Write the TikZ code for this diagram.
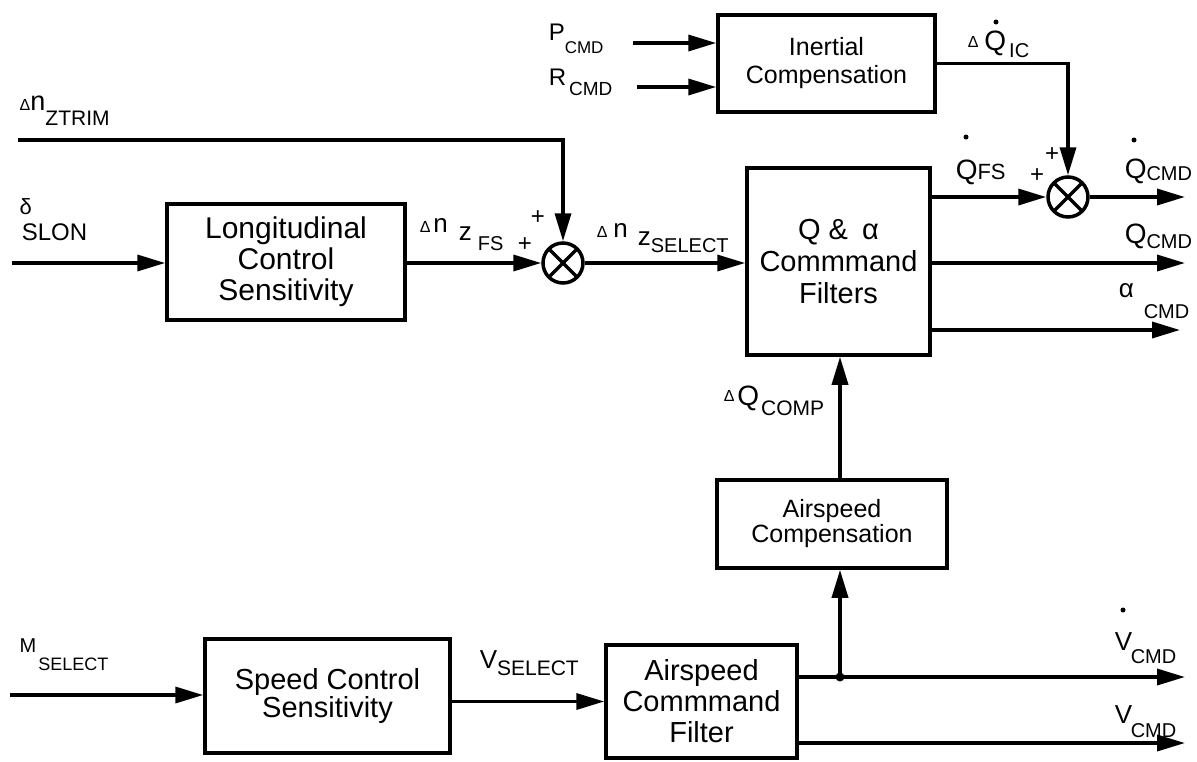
\documentclass[tikz,border=0pt]{standalone}
\usepackage{fontspec}
\setmainfont{Liberation Sans}
\usetikzlibrary{arrows.meta}
\newcommand{\fs}[1]{\fontsize{#1}{#1}\selectfont}
\newcommand{\lab}[3]{\raisebox{#1}{\fs{#2}#3}}
\begin{document}
\begin{tikzpicture}[x=1pt,y=-1pt,line width=3.5pt,
  arr/.style={-{Triangle[length=28pt,width=16pt]}},
  blk/.style={draw,line width=3.5pt,align=center,inner sep=0pt},
  sj/.style={circle,draw,line width=3.5pt,minimum size=40pt,inner sep=0pt,
    path picture={\draw[line width=3.5pt] (path picture bounding box.north west) -- (path picture bounding box.south east)
      (path picture bounding box.north east) -- (path picture bounding box.south west);}},
  lbl/.style={anchor=base west,inner sep=0pt},
  pl/.style={inner sep=0pt,font=\fs{24}}]
\useasboundingbox (0,0) rectangle (1197,761);

% blocks
\node[blk,minimum width=217pt,minimum height=97pt,font=\fontsize{25}{28}\selectfont] (inertial) at (826.5,63.5) {Inertial\\Compensation};
\node[blk,minimum width=238pt,minimum height=116pt,font=\fontsize{30}{31}\selectfont] (long) at (286,262) {Longitudinal\\Control\\Sensitivity};
\node[blk,minimum width=183pt,minimum height=187pt,font=\fontsize{29}{32}\selectfont] (qa) at (838.5,261.5) {Q \&\hspace{14pt}α\\Commmand\\Filters};
\node[blk,minimum width=230pt,minimum height=88pt,font=\fontsize{25}{25}\selectfont] (aspcomp) at (832,524) {Airspeed\\Compensation};
\node[blk,minimum width=245pt,minimum height=114pt,font=\fontsize{29}{28}\selectfont] (speed) at (327.5,696) {Speed Control\\Sensitivity};
\node[blk,minimum width=191pt,minimum height=113pt,font=\fontsize{29}{31}\selectfont] (asfilter) at (701.5,701.5) {Airspeed\\Commmand\\Filter};

% summing junctions
\node[sj] (s1) at (563,263) {};
\node[sj] (s2) at (1068,197) {};

% free ends
\coordinate (pin) at (633,43);
\coordinate (rin) at (637,87);
\coordinate (ztin) at (18,140);
\coordinate (din) at (12,263);
\coordinate (qdotout) at (1185,197);
\coordinate (qout) at (1185,263);
\coordinate (aout) at (1180,330);
\coordinate (min) at (10,695);
\coordinate (jn) at (840,677);
\coordinate (vdout) at (1185,677);
\coordinate (vout) at (1185,743);

% connectors
\draw[arr] (pin) -- (pin -| inertial.west);
\draw[arr] (rin) -- (rin -| inertial.west);
\draw[arr] (inertial.east) -| (s2.north);
\draw[arr] (ztin) -| (s1.north);
\draw[arr] (din) -- (din -| long.west);
\draw[arr] (long.east |- s1) -- (s1.west);
\draw[arr] (s1.east) -- (s1 -| qa.west);
\draw[arr] (s2 -| qa.east) -- (s2.west);
\draw[arr] (s2.east) -- (qdotout);
\draw[arr] (qout -| qa.east) -- (qout);
\draw[arr] (aout -| qa.east) -- (aout);
\draw[arr] (aspcomp.north -| jn) -- (qa.south -| jn);
\draw[arr] (jn) -- (aspcomp.south -| jn);
\draw[arr] (min) -- (min -| speed.west);
\draw[arr] (speed.east |- asfilter.west) -- (asfilter.west);
\draw[arr] (jn -| asfilter.east) -- (vdout);
\draw[arr] (vout -| asfilter.east) -- (vout);
\fill (jn) circle (4.5pt);

% labels
\node[lbl] (pcmd) at (547,40) {\fs{24}P\lab{-13pt}{17}{CMD}};
\node[lbl] (rcmd) at (547,85) {\fs{24}R\hspace{3pt}\lab{-10pt}{19}{CMD}};
\node[lbl] (ztl) at (18,110) {\fs{16}Δ\fs{27}n\lab{-15pt}{21}{ZTRIM}};
\node[lbl] (dsl) at (18,214) {\fs{22}δ};
\node[lbl] (slon) at (20,240) {\fs{24}SLON};
\node[lbl] (dnfs) at (418,232) {\fs{16}Δ\hspace{3pt}\fs{26}n\hspace{11pt}\lab{-8pt}{26}{z}\hspace{6pt}\lab{-18pt}{20}{FS}};
\node[pl] (p1) at (525,245) {+};
\node[pl] (p2) at (538,218) {+};
\node[lbl] (dnsel) at (595,237) {\fs{16}Δ\hspace{6pt}\fs{26}n\hspace{10pt}\lab{-8pt}{26}{z}\lab{-15pt}{20}{SELECT}};
\node[lbl] (dqic) at (966,50) {\fs{16}\raisebox{3pt}{Δ}\hspace{6pt}\fs{28}Q\hspace{3pt}\lab{-7pt}{20}{IC}};
\fill (996,22) circle (2.5pt);
\node[lbl] (qfs) at (954,179) {\fs{28}Q\lab{0pt}{22}{FS}};
\fill (966,137) circle (2.5pt);
\node[pl] (p3) at (1052,155) {+};
\node[pl] (p4) at (1037,176) {+};
\node[lbl] (qdcmd) at (1123,178) {\fs{28}Q\lab{-2pt}{20}{CMD}};
\fill (1134,140) circle (2.5pt);
\node[lbl] (qcmd) at (1123,243) {\fs{28}Q\lab{-5pt}{20}{CMD}};
\node[lbl] (acmd) at (1117,297) {\fs{26}α\hspace{10pt}\lab{-21pt}{20}{CMD}};
\node[lbl] (dqcomp) at (722,405) {\fs{16}\raisebox{4pt}{Δ}\hspace{3pt}\fs{28}Q\hspace{2pt}\lab{-10pt}{21}{COMP}};
\node[lbl] (msel) at (18,652) {\fs{20}M\hspace{2pt}\lab{-18pt}{18}{SELECT}};
\node[lbl] (vsel) at (478,668) {\fs{26}V\lab{-7pt}{21}{SELECT}};
\node[lbl] (vdcmd) at (1113,650) {\fs{26}\rlap{V}\hspace{16pt}\lab{-13pt}{20}{CMD}};
\fill (1123,610) circle (2.5pt);
\node[lbl] (vcmd) at (1113,723) {\fs{26}\rlap{V}\hspace{16pt}\lab{-14pt}{20}{CMD}};
\end{tikzpicture}
\end{document}
